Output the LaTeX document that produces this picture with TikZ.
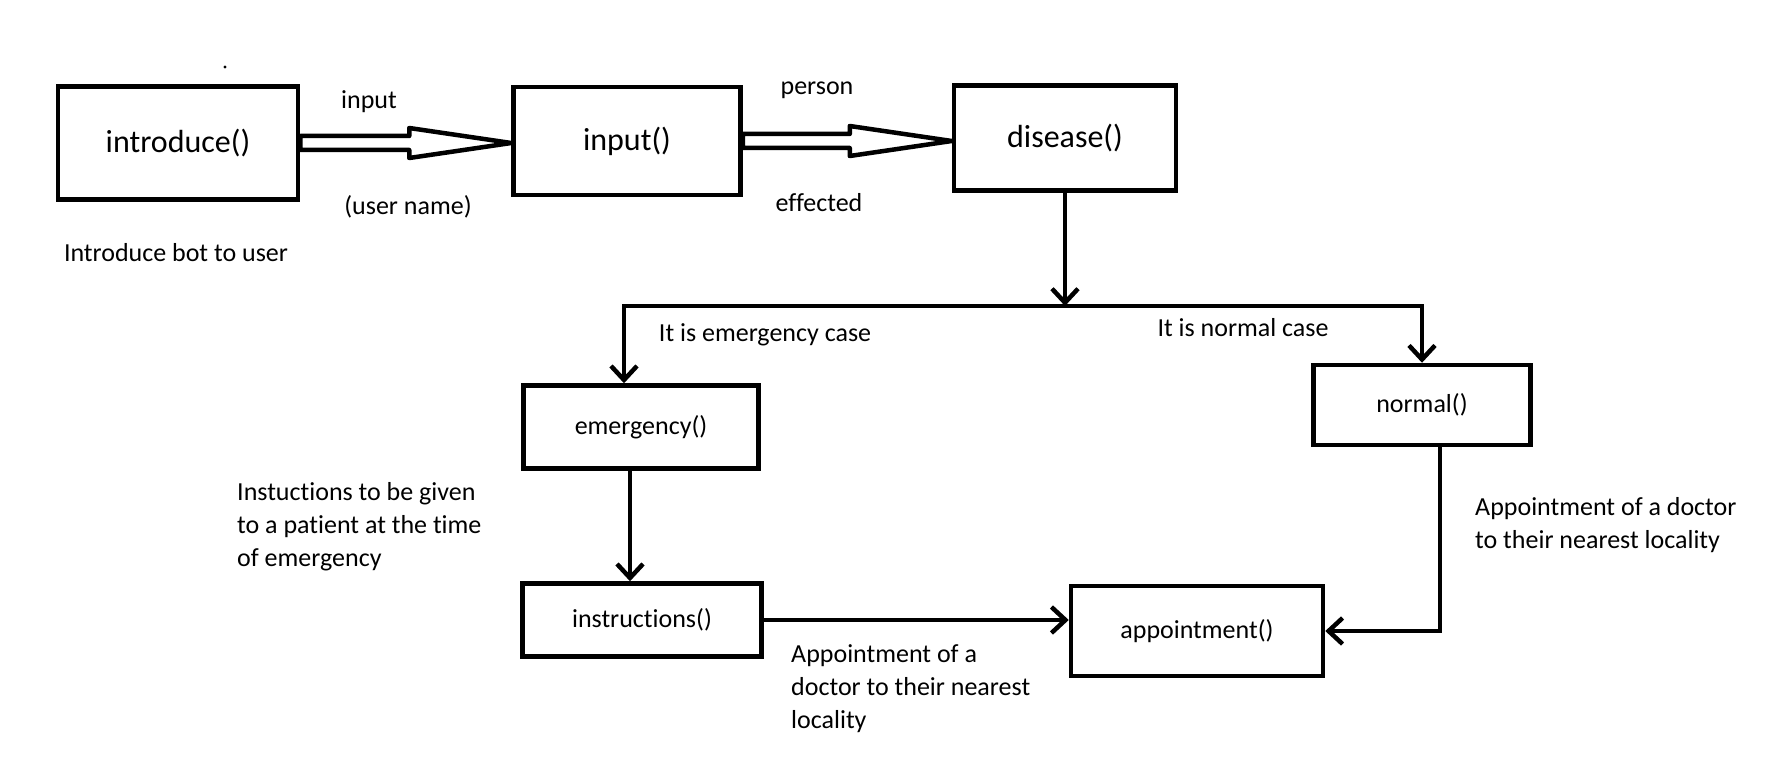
\documentclass[tikz,border=0pt]{standalone}
\usepackage{fontspec}
\setmainfont{Carlito}[Ligatures=NoCommon]
\usetikzlibrary{arrows.meta,calc}

\begin{document}
\begin{tikzpicture}[x=1pt,y=-1pt,
    box/.style={draw, line width=4.5pt, inner sep=0pt, font=\fontsize{26}{31}\selectfont},
    bigbox/.style={box, font=\fontsize{32}{38}\selectfont},
    note/.style={font=\fontsize{26}{33}\selectfont, align=left, inner sep=0pt},
    flow/.style={line width=4.5pt, -{Straight Barb[length=14pt,width=26pt]}},
    hollow/.style={draw, line width=4.5pt, line join=round}]

    % Fix the page to the size of the picture
    \useasboundingbox (0,0) rectangle (1778,757);

    % Top row of function boxes
    \node[bigbox, minimum width=240pt, minimum height=113pt] (intro) at (178,143) {introduce()};
    \node[bigbox, minimum width=227pt, minimum height=108pt] (input) at (627,141) {input()};
    \node[bigbox, minimum width=222pt, minimum height=105pt] (disease) at (1065,138) {disease()};

    % Lower boxes
    \node[box, minimum width=235pt, minimum height=83pt] (emergency) at (641,427) {emergency()};
    \node[box, minimum width=217pt, minimum height=80pt] (normal) at (1422,405) {normal()};
    \node[box, minimum width=239pt, minimum height=73pt] (instructions) at (642,620) {instructions()};
    \node[box, minimum width=252pt, minimum height=90pt] (appointment) at (1197,631) {appointment()};

    % Stray dot above the first box
    \fill (225,67) circle (1.6);

    % Hollow arrow from introduce() to input()
    \coordinate (a1s) at (intro.east);
    \coordinate (a1t) at (intro.east -| input.west);
    \draw[hollow] ($(a1s)+(0,-7)$) -- ($(a1t)+(-102,-7)$) -- ($(a1t)+(-102,-15)$) -- (a1t)
        -- ($(a1t)+(-102,15)$) -- ($(a1t)+(-102,7)$) -- ($(a1s)+(0,7)$) -- cycle;

    % Hollow arrow from input() to disease()
    \coordinate (a2s) at (input.east);
    \coordinate (a2t) at (input.east -| disease.west);
    \draw[hollow] ($(a2s)+(0,-7)$) -- ($(a2t)+(-102,-7)$) -- ($(a2t)+(-102,-15)$) -- (a2t)
        -- ($(a2t)+(-102,15)$) -- ($(a2t)+(-102,7)$) -- ($(a2s)+(0,7)$) -- cycle;

    % The branch point below disease()
    \coordinate (split) at (disease.south |- 0,306);
    \draw[flow] (disease.south) -- (split);
    \draw[flow] (split) -| ([xshift=-17pt]emergency.north);
    \draw[flow] (split) -| (normal.north);

    % Emergency path
    \draw[flow] ([xshift=-11pt]emergency.south) -- ([xshift=-12pt]instructions.north);
    \draw[flow] (instructions.east) -- (instructions.east -| appointment.west);

    % Normal path
    \draw[flow] ([xshift=18pt]normal.south) |- (appointment.east);

    % Labels on the arrows
    \node[note] (lblinput) at (369,102) {input};
    \node[note] (lbluser) at (408,207) {(user name)};
    \node[note] (lblperson) at (817,90) {person};
    \node[note] (lbleffected) at (819,203) {effected};
    \node[note] (lblemerg) at (765,335) {It is emergency case};
    \node[note] (lblnormal) at (1243,328) {It is normal case};

    % Notes beside the boxes
    \node[note] (lblintro) at (176,253) {Introduce bot to user};
    \node[note, anchor=west] (lblinstr) at (237,527) {Instuctions to be given\\to a patient at the time\\of emergency};
    \node[note, anchor=west] (lblappt) at (791,689) {Appointment of a\\doctor to their nearest\\locality};
    \node[note, anchor=west] (lbldoctor) at (1475,525) {Appointment of a doctor\\to their nearest locality};

\end{tikzpicture}
\end{document}
